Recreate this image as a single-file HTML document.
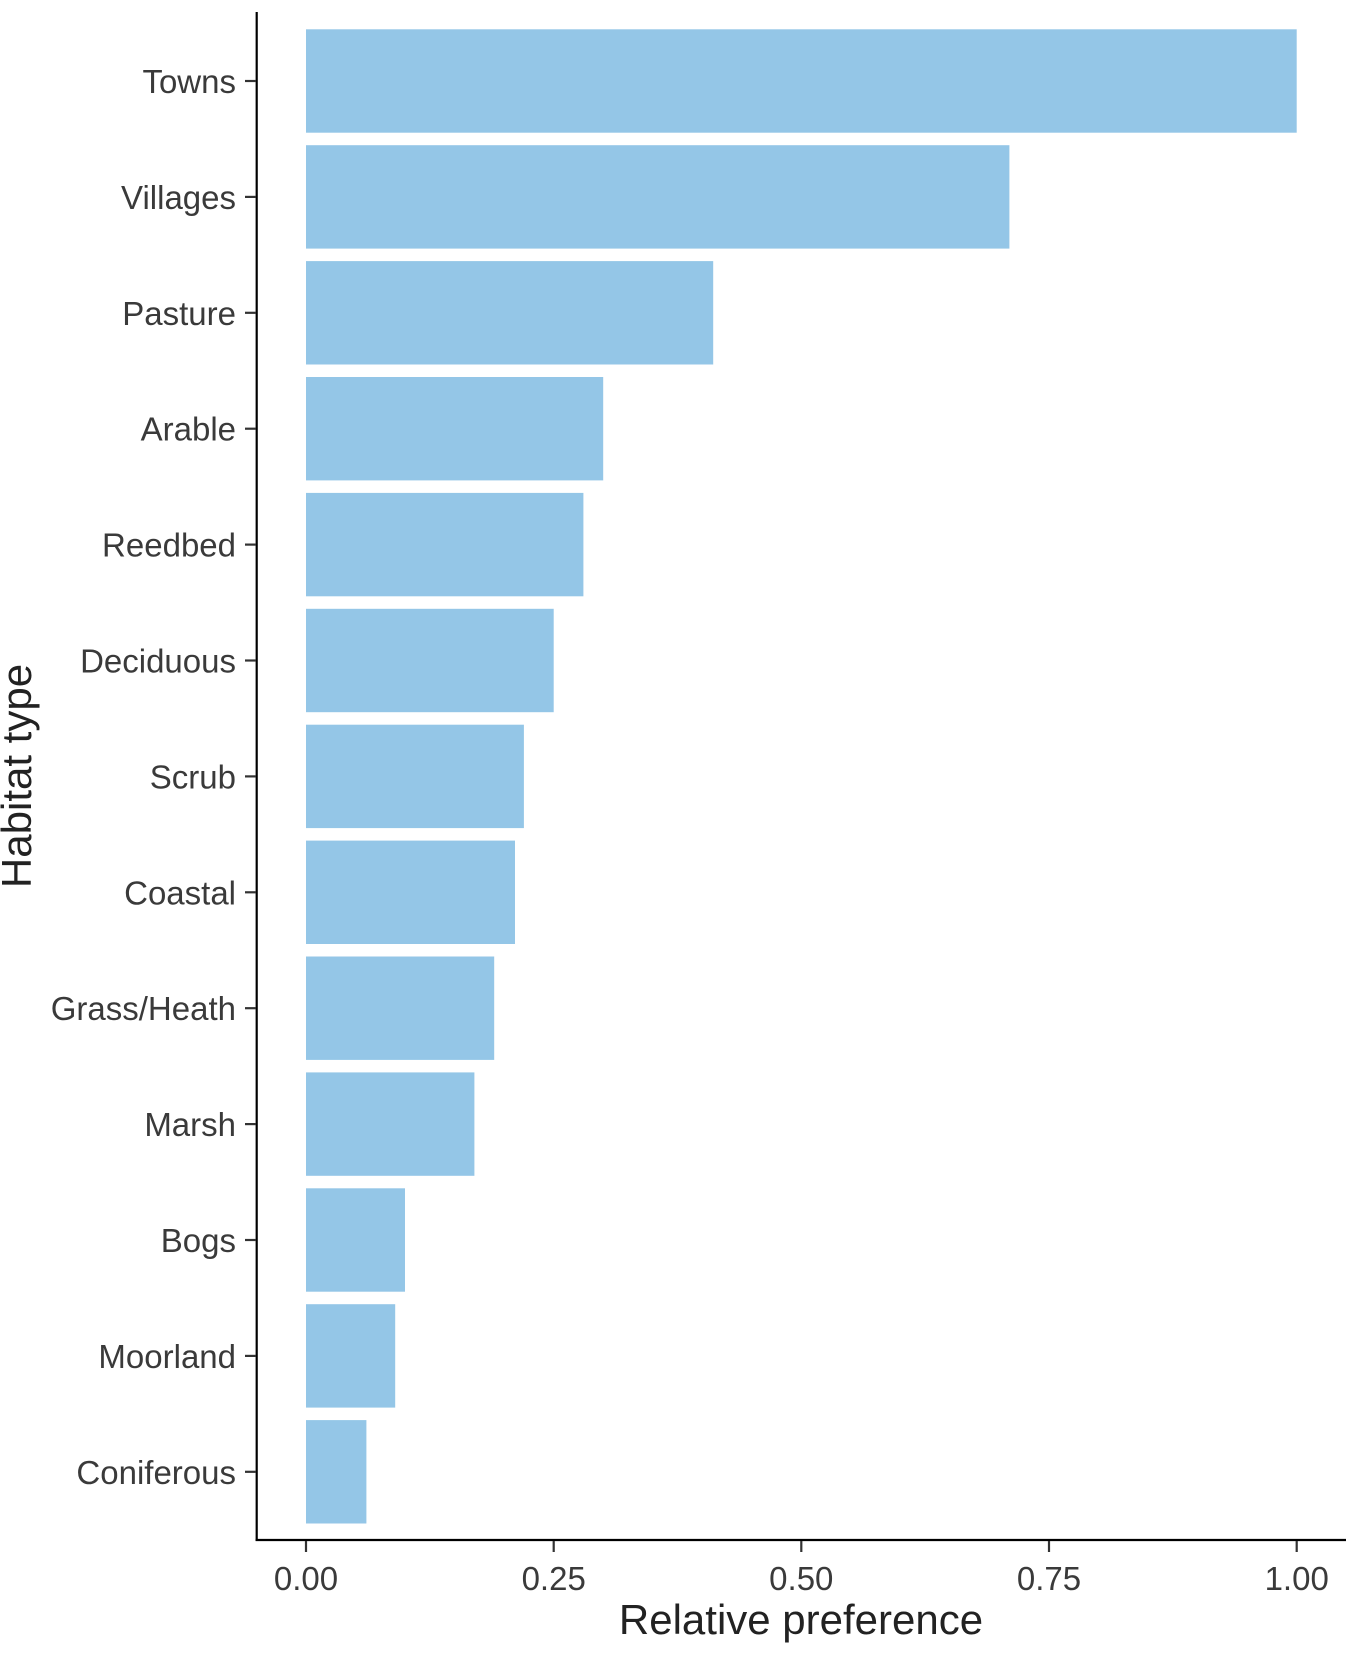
<!DOCTYPE html>
<html><head><meta charset="utf-8"><style>body{margin:0;background:#fff}</style></head><body>
<svg width="1358" height="1653" xmlns="http://www.w3.org/2000/svg" font-family="Liberation Sans, Arial, sans-serif">
<g fill="#94c6e7">
<rect x="306" y="29.3" width="990.7" height="103.4"/>
<rect x="306" y="145.2" width="703.4" height="103.4"/>
<rect x="306" y="261.1" width="407.2" height="103.4"/>
<rect x="306" y="377" width="297.2" height="103.4"/>
<rect x="306" y="492.9" width="277.4" height="103.4"/>
<rect x="306" y="608.8" width="247.7" height="103.4"/>
<rect x="306" y="724.7" width="217.9" height="103.4"/>
<rect x="306" y="840.6" width="209" height="103.4"/>
<rect x="306" y="956.5" width="188.2" height="103.4"/>
<rect x="306" y="1072.4" width="168.4" height="103.4"/>
<rect x="306" y="1188.3" width="99" height="103.4"/>
<rect x="306" y="1304.2" width="89.2" height="103.4"/>
<rect x="306" y="1420.1" width="60.4" height="103.4"/>
</g>
<g stroke="#000" stroke-width="2.2" fill="none">
<line x1="256.7" y1="12" x2="256.7" y2="1541"/>
<line x1="255.6" y1="1540" x2="1346" y2="1540"/>
</g>
<g stroke="#333" stroke-width="2.2">
<line x1="245" y1="81" x2="256" y2="81"/><line x1="245" y1="196.9" x2="256" y2="196.9"/>
<line x1="245" y1="312.8" x2="256" y2="312.8"/><line x1="245" y1="428.7" x2="256" y2="428.7"/>
<line x1="245" y1="544.6" x2="256" y2="544.6"/><line x1="245" y1="660.5" x2="256" y2="660.5"/>
<line x1="245" y1="776.4" x2="256" y2="776.4"/><line x1="245" y1="892.3" x2="256" y2="892.3"/>
<line x1="245" y1="1008.2" x2="256" y2="1008.2"/><line x1="245" y1="1124.1" x2="256" y2="1124.1"/>
<line x1="245" y1="1240" x2="256" y2="1240"/><line x1="245" y1="1355.9" x2="256" y2="1355.9"/>
<line x1="245" y1="1471.8" x2="256" y2="1471.8"/>
<line x1="306" y1="1541" x2="306" y2="1552"/><line x1="553.7" y1="1541" x2="553.7" y2="1552"/>
<line x1="801.3" y1="1541" x2="801.3" y2="1552"/><line x1="1049" y1="1541" x2="1049" y2="1552"/>
<line x1="1296.7" y1="1541" x2="1296.7" y2="1552"/>
</g>
<g fill="#3a3a3a" font-size="33" text-anchor="end">
<text x="236" y="93">Towns</text><text x="236" y="208.9">Villages</text>
<text x="236" y="324.8">Pasture</text><text x="236" y="440.7">Arable</text>
<text x="236" y="556.6">Reedbed</text><text x="236" y="672.5">Deciduous</text>
<text x="236" y="788.4">Scrub</text><text x="236" y="904.3">Coastal</text>
<text x="236" y="1020.2">Grass/Heath</text><text x="236" y="1136.1">Marsh</text>
<text x="236" y="1252">Bogs</text><text x="236" y="1367.9">Moorland</text>
<text x="236" y="1483.8">Coniferous</text>
</g>
<g fill="#3a3a3a" font-size="33" text-anchor="middle">
<text x="306" y="1590">0.00</text><text x="553.7" y="1590">0.25</text>
<text x="801.3" y="1590">0.50</text><text x="1049" y="1590">0.75</text>
<text x="1296.7" y="1590">1.00</text>
</g>
<text x="801" y="1634" font-size="42" text-anchor="middle" fill="#222">Relative preference</text>
<text transform="translate(31,776) rotate(-90)" font-size="42" text-anchor="middle" fill="#222">Habitat type</text>
</svg>
</body></html>
